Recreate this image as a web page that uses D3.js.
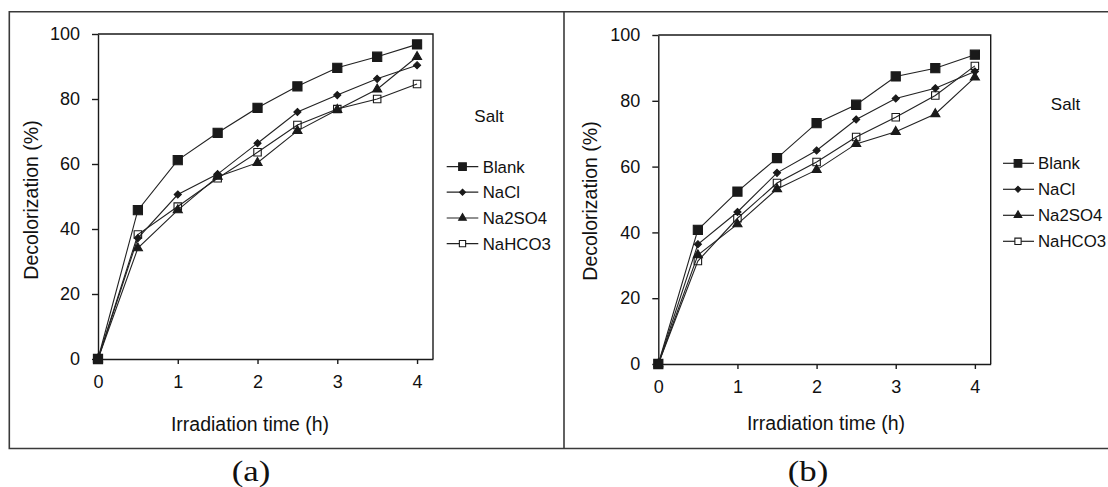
<!DOCTYPE html>
<html>
<head>
<meta charset="utf-8">
<script src="https://cdn.jsdelivr.net/npm/d3@7"></script>
<style>
  html, body { margin: 0; padding: 0; background: #fff; }
  svg { display: block; }
  text { font-family: "Liberation Sans", Arial, sans-serif; fill: #111; }
</style>
</head>
<body>
<svg id="chart" width="1108" height="487"></svg>
<script>
// ---- Data ----
const times = [0, 0.5, 1, 1.5, 2, 2.5, 3, 3.5, 4];
const seriesNames = ["Blank", "NaCl", "Na2SO4", "NaHCO3"];
const xTicks = [0, 1, 2, 3, 4];
const yTicks = [0, 20, 40, 60, 80, 100];
const xTitle = "Irradiation time (h)";
const yTitle = "Decolorization (%)";
const legendTitle = "Salt";
const panelLabels = ["(a)", "(b)"];

// Panel (a)
const aBlank  = [0, 45.8, 61.2, 69.6, 77.3, 83.9, 89.6, 93.0, 96.8];
const aNaCl   = [0, 37.2, 50.6, 56.9, 66.4, 76.0, 81.2, 86.2, 90.4];
const aNa2SO4 = [0, 34.1, 45.8, 56.1, 60.4, 70.2, 76.7, 83.0, 93.0];
const aNaHCO3 = [0, 38.3, 46.9, 55.6, 63.6, 72.0, 76.9, 80.0, 84.6];

// Panel (b)
const bBlank  = [0, 40.8, 52.4, 62.6, 73.2, 78.8, 87.4, 89.9, 94.0];
const bNaCl   = [0, 36.4, 46.2, 58.1, 64.9, 74.3, 80.7, 83.8, 88.9];
const bNa2SO4 = [0, 33.1, 42.5, 53.2, 59.0, 66.9, 70.6, 76.0, 87.1];
const bNaHCO3 = [0, 31.3, 44.3, 55.0, 61.4, 69.0, 75.0, 81.6, 90.6];

// ---- Layout ----
const svg = d3.select("#chart");
const ink = "#1a1a1a";

// outer frame and divider
const frame = svg.append("g").attr("stroke", "#3a3a3a").attr("stroke-width", 1.6).attr("fill", "none");
frame.append("path").attr("d", "M1110,11.7 L9.3,11.7 L9.3,448.5 L1110,448.5");
frame.append("line").attr("x1", 564).attr("x2", 564).attr("y1", 11.7).attr("y2", 448.5);

const symbols = {
  Blank:  { type: d3.symbolSquare,   size: 84, fill: ink,    stroke: ink },
  NaCl:   { type: d3.symbolDiamond2, size: 32, fill: ink,    stroke: ink },
  Na2SO4: { type: d3.symbolTriangle, size: 36, fill: ink,    stroke: ink },
  NaHCO3: { type: d3.symbolSquare,   size: 56, fill: "none", stroke: ink }
};

const panels = [
  { data: [aBlank, aNaCl, aNa2SO4, aNaHCO3], label: panelLabels[0],
    x0: 98, x1: 433, y0: 359, y1: 34,
    yTitleX: 31.5, yTitleY: 200, xTitleX: 250, xTitleY: 431,
    saltX: 489, saltY: 116, legLine: [446.7, 478.3], legMark: 462.5, legText: 482.7,
    legRows: [166.7, 192.2, 218.0, 243.6], capX: 251, capY: 481 },
  { data: [bBlank, bNaCl, bNa2SO4, bNaHCO3], label: panelLabels[1],
    x0: 658.3, x1: 990.7, y0: 364, y1: 35,
    yTitleX: 590, yTitleY: 201, xTitleX: 826, xTitleY: 430,
    saltX: 1065.5, saltY: 104, legLine: [1003, 1034], legMark: 1018, legText: 1038,
    legRows: [163.3, 189.3, 215.3, 241.3], capX: 808, capY: 481 }
];

panels.forEach(p => {
  const x = d3.scaleLinear().domain([0, 4.2]).range([p.x0, p.x1]);
  const y = d3.scaleLinear().domain([0, 100]).range([p.y0, p.y1]);
  const g = svg.append("g");

  // axes
  const xAxis = g.append("g").attr("transform", `translate(0,${p.y0})`)
    .call(d3.axisBottom(x).tickValues(xTicks).tickFormat(d3.format("d")).tickSize(5).tickSizeOuter(0).tickPadding(11));
  const yAxis = g.append("g").attr("transform", `translate(${p.x0},0)`)
    .call(d3.axisLeft(y).tickValues(yTicks).tickFormat(d3.format("d")).tickSize(6).tickSizeOuter(0).tickPadding(12));
  [xAxis, yAxis].forEach(ax => {
    ax.attr("font-family", null).attr("font-size", null);
    ax.selectAll("path, line").attr("stroke", ink).attr("stroke-width", 1.4);
    ax.selectAll("text").attr("font-size", 18).attr("fill", "#111");
  });
  // top & right frame
  g.append("path")
    .attr("d", `M${x(0)},${y(100)} L${x(4.2)},${y(100)} L${x(4.2)},${y(0)}`)
    .attr("fill", "none").attr("stroke", ink).attr("stroke-width", 1.4);

  // series lines
  const line = d3.line().x((d, i) => x(times[i])).y(d => y(d));
  p.data.forEach((vals, si) => {
    g.append("path").datum(vals).attr("d", line)
      .attr("fill", "none").attr("stroke", "#222").attr("stroke-width", 1.1);
  });
  // markers
  p.data.forEach((vals, si) => {
    const s = symbols[seriesNames[si]];
    g.selectAll(null).data(vals).enter().append("path")
      .attr("transform", (d, i) => `translate(${x(times[i])},${y(d)})`)
      .attr("d", d3.symbol().type(s.type).size(s.size))
      .attr("fill", s.fill).attr("stroke", s.stroke).attr("stroke-width", 1.1);
  });

  // titles
  g.append("text").attr("x", p.xTitleX).attr("y", p.xTitleY)
    .attr("text-anchor", "middle").attr("font-size", 19.5).text(xTitle);
  g.append("text")
    .attr("transform", `translate(${p.yTitleX},${p.yTitleY}) rotate(-90)`)
    .attr("text-anchor", "middle").attr("dy", "0.35em").attr("font-size", 19.5).text(yTitle);

  // legend
  g.append("text").attr("x", p.saltX).attr("y", p.saltY).attr("dy", "0.35em")
    .attr("text-anchor", "middle").attr("font-size", 17).text(legendTitle);
  seriesNames.forEach((name, i) => {
    const ry = p.legRows[i];
    const s = symbols[name];
    g.append("line").attr("x1", p.legLine[0]).attr("x2", p.legLine[1])
      .attr("y1", ry).attr("y2", ry).attr("stroke", "#222").attr("stroke-width", 1.2);
    g.append("path").attr("transform", `translate(${p.legMark},${ry})`)
      .attr("d", d3.symbol().type(s.type).size(s.size * 0.7))
      .attr("fill", s.fill === "none" ? "#fff" : s.fill).attr("stroke", s.stroke).attr("stroke-width", 1.1);
    g.append("text").attr("x", p.legText).attr("y", ry).attr("dy", "0.36em")
      .attr("font-size", 16.8).text(name);
  });

  // panel caption
  g.append("text")
    .attr("transform", `translate(${p.capX},${p.capY}) scale(1.2,1)`)
    .attr("text-anchor", "middle")
    .style("font-family", "'Liberation Serif', 'Times New Roman', serif")
    .attr("font-size", 29).text(p.label);
});
</script>
</body>
</html>
